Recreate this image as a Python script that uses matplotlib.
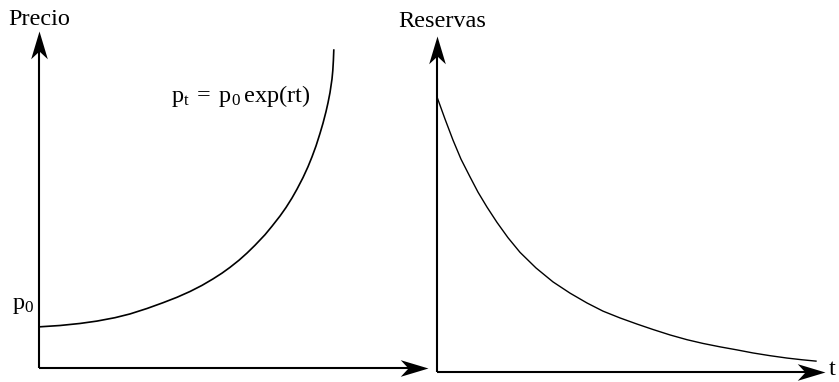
import matplotlib
matplotlib.use("Agg")
import matplotlib.pyplot as plt
from matplotlib.path import Path

# Datos (unidades arbitrarias, ejes de 0 a 10)
t_precio = [0.0, 0.525, 1.025, 1.45, 1.9, 2.275, 2.7, 3.1, 3.45, 3.775, 4.075, 4.35,
            4.575, 4.775, 5.0, 5.2, 5.4, 5.65, 5.825, 6.025, 6.175, 6.325, 6.45, 6.6,
            6.725, 6.825, 6.925, 7.025, 7.1, 7.175, 7.225, 7.275, 7.325, 7.345, 7.36, 7.37]
precio = [1.21, 1.25, 1.31, 1.38, 1.48, 1.59, 1.75, 1.92, 2.08, 2.25, 2.43, 2.62,
          2.79, 2.96, 3.17, 3.38, 3.61, 3.92, 4.17, 4.47, 4.72, 5.0, 5.26, 5.6,
          5.92, 6.21, 6.53, 6.9, 7.2, 7.54, 7.8, 8.1, 8.5, 8.75, 9.05, 9.35]

t_reservas = [0.0, 0.2, 0.4, 0.6, 0.825, 1.025, 1.25, 1.5, 1.775, 2.075, 2.475, 2.9,
              3.325, 3.75, 4.15, 4.575, 5.0, 5.4, 5.825, 6.25, 6.65, 7.075, 7.5, 7.9,
              8.325, 8.75, 9.125, 9.475]
reservas = [8.09, 7.44, 6.82, 6.26, 5.74, 5.29, 4.85, 4.40, 3.95, 3.52, 3.06, 2.65,
            2.32, 2.03, 1.79, 1.59, 1.41, 1.25, 1.09, 0.95, 0.84, 0.74, 0.65, 0.56,
            0.48, 0.41, 0.36, 0.32]

etiqueta_izq = "Precio"
etiqueta_der = "Reservas"
etiqueta_t = "t"
etiqueta_p0 = r"$\mathrm{p_0}$"
formula = r"$\mathrm{p_t\;=\;p_0\,exp(rt)}$"

plt.rcParams['font.family'] = ['Liberation Serif', 'DejaVu Serif']
plt.rcParams['mathtext.fontset'] = 'custom'
plt.rcParams['mathtext.rm'] = 'Liberation Serif'
plt.rcParams['mathtext.it'] = 'Liberation Serif:italic'

W, H = 839, 382
fig = plt.figure(figsize=(W / 100, H / 100), dpi=100)


def ejes_px(x0, y_abajo, ancho, alto):
    return fig.add_axes([x0 / W, (H - y_abajo) / H, ancho / W, alto / H])


# puntas de flecha tipo "stealth"
flecha_der = Path([(0, 0), (-1, 0.3), (-0.72, 0), (-1, -0.3), (0, 0)],
                  [Path.MOVETO, Path.LINETO, Path.LINETO, Path.LINETO, Path.CLOSEPOLY])
flecha_arr = Path([(0, 0), (0.3, -1), (0, -0.72), (-0.3, -1), (0, 0)],
                  [Path.MOVETO, Path.LINETO, Path.LINETO, Path.LINETO, Path.CLOSEPOLY])


def dibujar_ejes(ax, x_fin, y_fin):
    ax.set_xlim(0, 10)
    ax.set_ylim(0, 10)
    ax.axis('off')
    ax.plot([0, x_fin - 0.3], [0, 0], color='black', lw=1.5, clip_on=False, solid_capstyle='butt')
    ax.plot([0, 0], [0, y_fin - 0.3], color='black', lw=1.5, clip_on=False, solid_capstyle='butt')
    ax.plot([x_fin], [0], marker=flecha_der, ms=40, color='black', mew=0, clip_on=False)
    ax.plot([0], [y_fin], marker=flecha_arr, ms=40, color='black', mew=0, clip_on=False)


ax1 = ejes_px(39, 368, 400, 340)
dibujar_ejes(ax1, 9.72, 9.91)
ax1.plot(t_precio, precio, color='black', lw=1.2, clip_on=False, solid_joinstyle='round')
ax1.text(-0.78, 10.09, etiqueta_izq, fontsize=17.5, ha='left', va='baseline')
ax1.text(-0.68, 1.73, etiqueta_p0, fontsize=17.5, ha='left', va='baseline')
ax1.text(3.3, 7.82, formula, fontsize=17.5, ha='left', va='baseline')

ax2 = ejes_px(437, 372, 400, 340)
dibujar_ejes(ax2, 9.7, 9.88)
ax2.plot(t_reservas, reservas, color='black', lw=1.0, clip_on=False, solid_joinstyle='round')
ax2.text(-0.975, 10.15, etiqueta_der, fontsize=17.5, ha='left', va='baseline')
ax2.text(9.8, -0.1, etiqueta_t, fontsize=17.5, ha='left', va='baseline')

fig.savefig("out.png", dpi=100)
